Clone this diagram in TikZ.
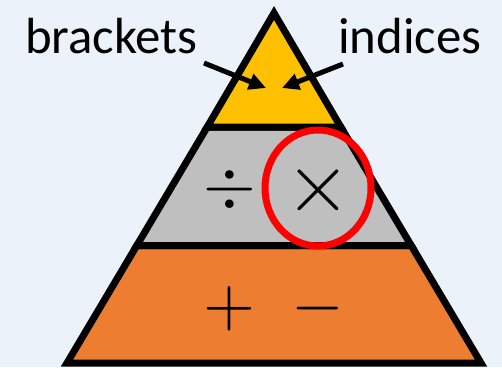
\documentclass[tikz,border=0pt]{standalone}
\usepackage{fontspec}
\usepackage{graphicx}
\newfontfamily\labelfont{Carlito}
\usetikzlibrary{arrows.meta}
\definecolor{bgc}{HTML}{EBF2FA}
\definecolor{topc}{HTML}{FFC000}
\definecolor{midc}{HTML}{BFBFBF}
\definecolor{botc}{HTML}{ED7D31}
\tikzset{
  layer/.style={draw=black, line width=7bp, line join=miter},
  lbl/.style={font=\labelfont\fontsize{51}{60}\selectfont, inner sep=0pt, anchor=base west},
  sym/.style={inner sep=0pt, anchor=center},
  pointer/.style={line width=5bp, -{Triangle[length=17bp,width=16bp]}},
}
\begin{document}
\begin{tikzpicture}[x=1bp,y=-1bp]
\fill[bgc] (0,0) rectangle (502,367);
\useasboundingbox (0,0) rectangle (502,367);
% layers
\filldraw[layer, fill=botc] (136.8,245.5) -- (411.2,245.5) -- (481,363) -- (67,363) -- cycle;
\filldraw[layer, fill=midc] (207.2,127) -- (340.8,127) -- (411.2,245.5) -- (136.8,245.5) -- cycle;
\filldraw[layer, fill=topc] (274,13) -- (340.8,127) -- (207.2,127) -- cycle;
% symbols
\node[sym] (div) at (230,190) {\scalebox{6.8}{$\div$}};
\node[sym] (times) at (318,190) {\scalebox{8.5}{$\times$}};
\node[sym] (plus) at (229,309) {\scalebox{6.7}{$+$}};
\node[sym] (minus) at (318,309) {\scalebox{6.8}{$-$}};
% red circle
\draw[red, line width=7bp] (318,188) ellipse [x radius=53, y radius=58];
% labels
\node[lbl] (brackets) at (25,53) {brackets};
\node[lbl] (indices) at (338,53) {indices};
\coordinate (bt) at (204,63);
\coordinate (bh) at (266,88);
\coordinate (it) at (343,64);
\coordinate (ih) at (282,88);
\draw[pointer] (bt) -- (bh);
\draw[pointer] (it) -- (ih);
\end{tikzpicture}
\end{document}
